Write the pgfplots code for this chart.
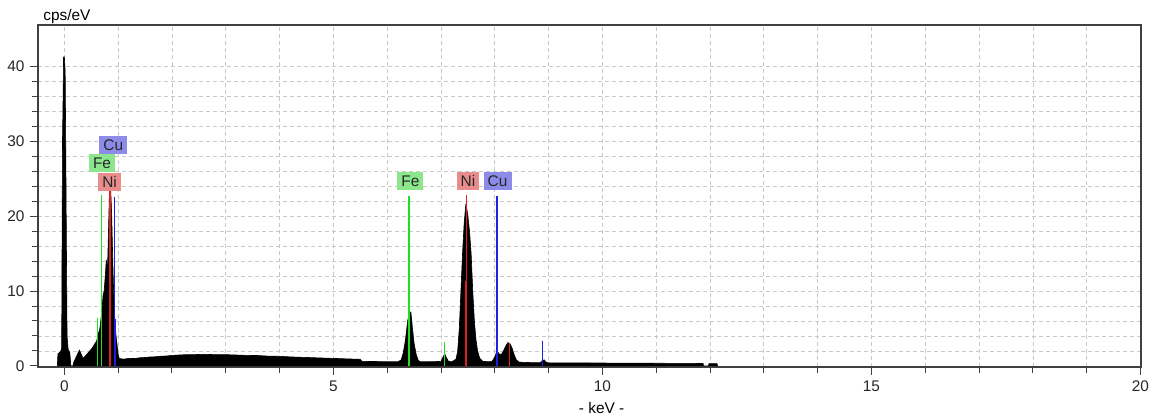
\documentclass[border=0pt]{standalone}
\usepackage{pgfplots}
\pgfplotsset{compat=1.18}
\usepackage{fontspec}
\setmainfont{Liberation Sans}

\definecolor{feline}{HTML}{22DD22}
\definecolor{niline}{HTML}{E02020}
\definecolor{culine}{HTML}{2020E0}
\definecolor{febox}{HTML}{8CE68C}
\definecolor{nibox}{HTML}{E88C8C}
\definecolor{cubox}{HTML}{8C8CE8}
\definecolor{gridgray}{HTML}{C8C8C8}
\definecolor{framegray}{HTML}{404040}

% EDS spectrum, counts per eV against energy in keV
\pgfplotstableread{
x y
-0.13 0
-0.12 1.6
-0.07 1.9
-0.05 2.4
-0.045 12
-0.035 30
-0.025 35
-0.015 41.3
0.00 41.3
0.015 39.3
0.025 30
0.04 14
0.05 4
0.07 2.2
0.10 1.8
0.11 1.0
0.12 0
0.16 0
0.17 0.4
0.22 1.2
0.28 2.1
0.31 1.6
0.35 1.0
0.40 1.4
0.46 1.9
0.52 2.4
0.57 3.0
0.60 3.3
0.62 4.0
0.66 5.0
0.70 7.5
0.72 9.5
0.74 10.0
0.76 12.0
0.78 14.2
0.80 12.5
0.82 18.0
0.84 23.8
0.86 23.8
0.88 20.0
0.90 14.0
0.92 9.0
0.94 6.0
0.96 4.0
0.98 2.8
1.00 1.5
1.02 1.0
1.05 0.95
1.10 0.9
1.20 1.0
1.30 0.98
1.40 1.08
1.50 1.12
1.60 1.2
1.70 1.22
1.80 1.3
1.90 1.32
2.00 1.4
2.20 1.48
2.40 1.5
2.60 1.55
2.80 1.5
3.00 1.5
3.20 1.45
3.40 1.4
3.60 1.38
3.80 1.3
4.00 1.28
4.20 1.2
4.40 1.15
4.60 1.1
4.80 1.05
5.00 1.0
5.20 0.95
5.40 0.9
5.50 0.88
5.53 0.6
5.80 0.58
6.00 0.55
6.20 0.55
6.26 0.8
6.30 1.8
6.34 3.5
6.38 6.0
6.41 7.0
6.44 7.2
6.47 5.0
6.50 3.0
6.54 1.5
6.58 0.7
6.62 0.55
6.80 0.55
7.00 0.6
7.04 1.2
7.07 1.6
7.10 1.1
7.14 0.6
7.20 0.55
7.28 0.9
7.31 2.0
7.34 5.0
7.37 10
7.40 15
7.43 19
7.46 21.5
7.48 21
7.50 20
7.53 18
7.56 15
7.59 10
7.62 6
7.65 3.5
7.68 2
7.72 1
7.78 0.6
7.90 0.55
7.95 0.6
8.00 1.2
8.04 2.0
8.08 1.6
8.12 1.5
8.16 2.0
8.20 2.6
8.24 3.1
8.28 3.0
8.32 2.4
8.36 1.5
8.40 0.8
8.45 0.5
8.60 0.45
8.85 0.42
8.88 0.7
8.92 0.8
8.95 0.5
9.00 0.4
10.00 0.38
11.00 0.35
11.87 0.32
11.88 0
11.97 0
11.98 0.3
12.13 0.3
12.14 0
}\spectrum

% element marker lines: energy, height
\pgfplotstableread{
x y
0.62 6.4
0.685 22.8
6.405 22.7
6.395 11.5
7.06 3.2
}\felines
\pgfplotstableread{
x y
0.85 23.4
7.47 22.8
7.46 11.4
8.27 3.0
}\nilines
\pgfplotstableread{
x y
0.925 22.6
0.94 6.2
8.04 22.7
8.03 11.5
8.89 3.3
}\culines

\begin{document}
\fontsize{7.7}{9}\selectfont
\begin{tikzpicture}
\useasboundingbox (-19pt,-25pt) rectangle (561pt,183.5pt);
\begin{axis}[
  scale only axis,
  width=551.5pt, height=171pt,
  xmin=-0.49, xmax=20.01,
  ymin=-0.15, ymax=45.57,
  xtick={0,5,...,20}, minor x tick num=4,
  ytick={0,10,...,40}, minor y tick num=4,
  tick pos=left,
  tick align=outside,
  major tick length=4pt, minor tick length=3pt,
  tick style={color=framegray, line width=0.5pt},
  grid=both,
  grid style={color=gridgray, line width=0.35pt, dash pattern=on 2pt off 1.5pt},
  minor grid style={color=gridgray, line width=0.35pt, dash pattern=on 2pt off 1.5pt},
  axis line style={color=framegray, line width=0.75pt},
  /pgf/number format/assume math mode=true,
  tick label style={font=\fontsize{7.7}{9}\selectfont, text=black!85},
  xlabel={- keV -},
  xlabel style={at={(axis description cs:0.511,0)}, anchor=center, yshift=-20.5pt, font=\fontsize{7.7}{9}\selectfont},
  clip=false,
]
\addplot[draw=black, fill=black, line width=0.3pt] table[x=x, y=y] {\spectrum} \closedcycle;
\addplot[ycomb, no markers, color=feline, line width=0.6pt] table[x=x, y=y] {\felines};
\addplot[ycomb, no markers, color=niline, line width=0.6pt] table[x=x, y=y] {\nilines};
\addplot[ycomb, no markers, color=culine, line width=0.6pt] table[x=x, y=y] {\culines};

\tikzset{elem/.style={inner sep=0pt, minimum height=9pt, text=black!85, font=\fontsize{7.7}{9}\selectfont}}
\node[elem, fill=cubox, minimum width=14pt] at (axis cs:0.91,29.5) {Cu};
\node[elem, fill=febox, minimum width=13pt] at (axis cs:0.70,27.1) {Fe};
\node[elem, fill=nibox, minimum width=11.5pt] at (axis cs:0.84,24.6) {Ni};
\node[elem, fill=febox, minimum width=13pt] at (axis cs:6.43,24.7) {Fe};
\node[elem, fill=nibox, minimum width=11pt] at (axis cs:7.50,24.7) {Ni};
\node[elem, fill=cubox, minimum width=14pt] at (axis cs:8.05,24.7) {Cu};

\node[anchor=base west, inner sep=0pt, font=\fontsize{7.7}{9}\selectfont] at ([xshift=2.5pt, yshift=2.2pt]rel axis cs:0,1) {cps/eV};
\end{axis}
\end{tikzpicture}
\end{document}
